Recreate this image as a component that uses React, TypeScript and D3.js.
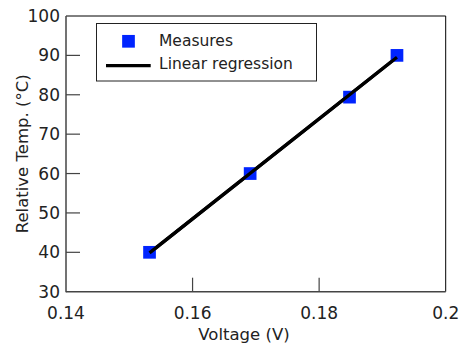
import React from "react";
import * as d3 from "d3";

const voltage = [0.1532, 0.1691, 0.1848, 0.1923];
const temperature = [40, 60, 79.4, 90];
const xTicks = [0.14, 0.16, 0.18, 0.2];
const yTicks = [30, 40, 50, 60, 70, 80, 90, 100];
const legendLabels = ["Measures", "Linear regression"];

const W = 459;
const H = 347;
const M = { left: 66, right: 13.3, top: 16, bottom: 55.3 };
const FONT = "'DejaVu Sans', Verdana, sans-serif";
const BLUE = "#0024ff";
const AXIS = "#444";

export default function App() {
  const x = d3.scaleLinear().domain([0.14, 0.2]).range([M.left, W - M.right]);
  const y = d3.scaleLinear().domain([30, 100]).range([H - M.bottom, M.top]);

  const mx = d3.mean(voltage)!;
  const my = d3.mean(temperature)!;
  const sxy = d3.sum(voltage.map((v, i) => (v - mx) * (temperature[i] - my)));
  const sxx = d3.sum(voltage.map((v) => (v - mx) ** 2));
  const slope = sxy / sxx;
  const intercept = my - slope * mx;
  const xs = d3.extent(voltage) as [number, number];
  const fit = xs.map((v) => [v, intercept + slope * v] as [number, number]);
  const line = d3
    .line<[number, number]>()
    .x((d) => x(d[0]))
    .y((d) => y(d[1]));

  const x0 = x(0.14), x1 = x(0.2), y0 = y(30), y1 = y(100);
  const sq = 12.7;
  const tickLen = 14;

  return (
    <svg
      width={W}
      height={H}
      style={{ position: "absolute", left: 0, top: 0, background: "#fff" }}
      fontFamily={FONT}
    >
      <rect x={0} y={0} width={W} height={H} fill="#fff" />
      {/* frame */}
      <line x1={x0} x2={x1} y1={y1} y2={y1} stroke="#000" strokeWidth={1} />
      <line x1={x1} x2={x1} y1={y1} y2={y0} stroke="#000" strokeWidth={1} />
      <line x1={x0} x2={x0} y1={y1} y2={y0 + 0.5} stroke={AXIS} strokeWidth={1.5} />
      <line x1={x0} x2={x1} y1={y0} y2={y0} stroke={AXIS} strokeWidth={1.5} />

      {/* y ticks */}
      {yTicks.map((t) => (
        <g key={"y" + t}>
          {t !== 30 && t !== 100 && (
            <line x1={x0} x2={x0 + tickLen} y1={y(t)} y2={y(t)} stroke={AXIS} strokeWidth={1.2} />
          )}
          <text
            x={x0 - 6}
            y={y(t)}
            textAnchor="end"
            dominantBaseline="central"
            fontSize={17}
            fill="#222"
          >
            {t}
          </text>
        </g>
      ))}

      {/* x ticks */}
      {xTicks.map((t) => (
        <g key={"x" + t}>
          {t !== 0.14 && t !== 0.2 && (
            <line x1={x(t)} x2={x(t)} y1={y0} y2={y0 - tickLen} stroke={AXIS} strokeWidth={1.2} />
          )}
          <text x={x(t)} y={y0 + 27.5} textAnchor="middle" fontSize={17} fill="#222">
            {String(t)}
          </text>
        </g>
      ))}

      {/* axis titles */}
      <text x={244} y={340} textAnchor="middle" fontSize={16.5} fill="#222">
        Voltage (V)
      </text>
      <text
        transform={`translate(28, ${(y0 + y1) / 2}) rotate(-90)`}
        textAnchor="middle"
        fontSize={16.5}
        fill="#222"
      >
        Relative Temp. (°C)
      </text>

      {/* regression */}
      <path d={line(fit) || ""} fill="none" stroke="#000" strokeWidth={3.2} />

      {/* points */}
      {voltage.map((v, i) => (
        <rect
          key={"p" + i}
          x={x(v) - sq / 2}
          y={y(temperature[i]) - sq / 2}
          width={sq}
          height={sq}
          fill={BLUE}
        />
      ))}
      {/* re-draw line over points as in reference */}
      <path d={line(fit) || ""} fill="none" stroke="#000" strokeWidth={3.2} />

      {/* legend */}
      <rect x={96.5} y={23.5} width={220} height={57.5} fill="#fff" stroke="#222" strokeWidth={1} />
      <rect x={128.5 - sq / 2} y={41.3 - sq / 2} width={sq} height={sq} fill={BLUE} />
      <line x1={106} x2={150.7} y1={65.7} y2={65.7} stroke="#000" strokeWidth={3.2} />
      <text x={159} y={45.5} fontSize={15.5} fill="#222">
        {legendLabels[0]}
      </text>
      <text x={159} y={68.5} fontSize={15.5} fill="#222">
        {legendLabels[1]}
      </text>
    </svg>
  );
}
